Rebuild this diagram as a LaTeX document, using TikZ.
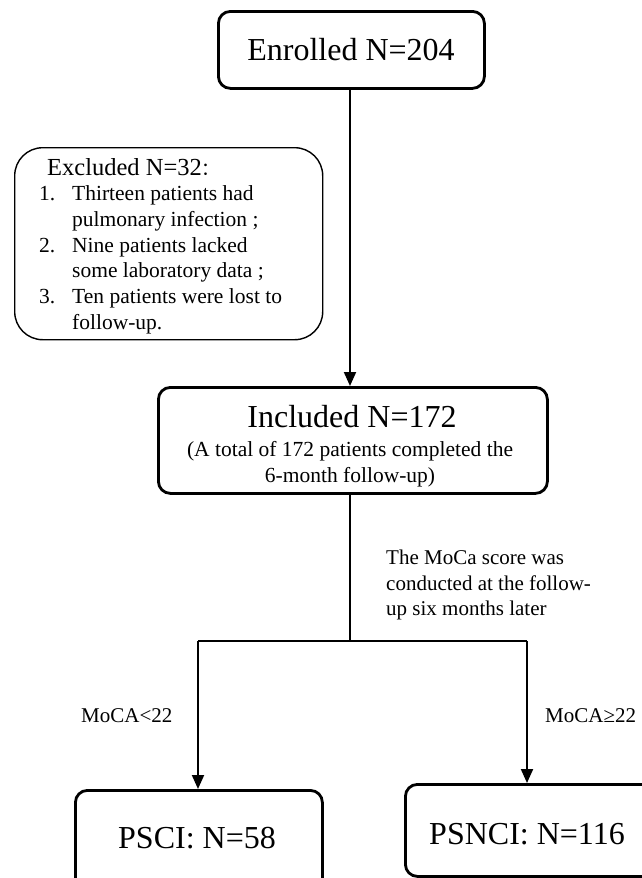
\documentclass[tikz,border=0pt]{standalone}
\usepackage{fontspec}
\setmainfont{Liberation Serif}
\newfontfamily\cjk{Noto Sans CJK SC}
\usetikzlibrary{arrows.meta}
\begin{document}
\begin{tikzpicture}[x=1pt,y=-1pt,
  mainbox/.style={draw=black,line width=2.8pt,rounded corners=12pt,inner sep=0pt,anchor=north west},
  thinbox/.style={draw=black,line width=1.4pt,rounded corners=28pt,inner sep=0pt,anchor=north west},
  arr/.style={line width=2pt,-{Triangle[length=14pt,width=12pt]}},
  ln/.style={line width=2pt},
  txt/.style={inner sep=0pt,anchor=base},
  txtl/.style={inner sep=0pt,anchor=base west},
  fbig/.style={font=\fontsize{32}{36}\selectfont},
  fmid/.style={font=\fontsize{21.5}{25}\selectfont},
  fsm/.style={font=\fontsize{21}{25}\selectfont},
]
\useasboundingbox (0,0) rectangle (641,878);
% boxes
\node[mainbox,minimum width=266pt,minimum height=77pt] (enr) at (217,10) {};
\node[thinbox,minimum width=308pt,minimum height=192pt] (exc) at (14,147) {};
\node[mainbox,minimum width=389pt,minimum height=106pt] (inc) at (157,386) {};
\node[mainbox,minimum width=247pt,minimum height=110pt] (pscibox) at (74,789) {};
\node[mainbox,minimum width=260pt,minimum height=92pt] (psncibox) at (404,783) {};
% texts
\node[txt,fbig] (enrt) at (351,60) {Enrolled N=204};
\node[txt,fbig] (inct) at (352,427) {Included N=172};
\node[txt,font=\fontsize{21.5}{24}\selectfont] (inc2) at (350,456) {(A total of 172 patients completed the};
\node[txt,font=\fontsize{21.5}{24}\selectfont] (inc3) at (350,482) {6-month follow-up)};
\node[txt,fbig] (pscit) at (197,848) {PSCI: N=58};
\node[txt,fbig] (psncit) at (527,844) {PSNCI: N=116};
% excluded list
\node[txtl,font=\fontsize{24.5}{28}\selectfont] (ex0) at (47,175) {Excluded N=32{\cjk\fontsize{18}{20}\selectfont ：}};
\node[txtl,fmid] (ex1n) at (39,200) {1.};
\node[txtl,fmid] (ex1) at (72,200) {Thirteen patients had};
\node[txtl,fmid] (ex1b) at (72,226) {pulmonary infection ;};
\node[txtl,fmid] (ex2n) at (39,252) {2.};
\node[txtl,fmid] (ex2) at (72,252) {Nine patients lacked};
\node[txtl,fmid] (ex2b) at (72,277) {some laboratory data ;};
\node[txtl,fmid] (ex3n) at (39,303) {3.};
\node[txtl,fmid] (ex3) at (72,303) {Ten patients were lost to};
\node[txtl,fmid] (ex3b) at (72,329) {follow-up.};
% MoCa labels
\node[txtl,fsm] (m1) at (386,564) {The MoCa score was};
\node[txtl,fsm] (m2) at (386,590) {conducted at the follow-};
\node[txtl,fsm] (m3) at (386,615) {up six months later};
\node[txtl,fsm] (lt) at (81,722) {MoCA<22};
\node[txtl,fsm] (ge) at (545,722) {MoCA≥22};
% connectors
\coordinate (j) at (350,641);
\coordinate (jl) at (198,641);
\coordinate (jr) at (527,641);
\draw[arr] (enr.south -| 350,0) -- (inc.north -| 350,0);
\draw[ln] (inc.south -| 350,0) -- (j);
\draw[ln] (jl) -- (jr);
\draw[arr] (jl) -- (pscibox.north -| jl);
\draw[arr] (jr) -- (psncibox.north -| jr);
\end{tikzpicture}
\end{document}
